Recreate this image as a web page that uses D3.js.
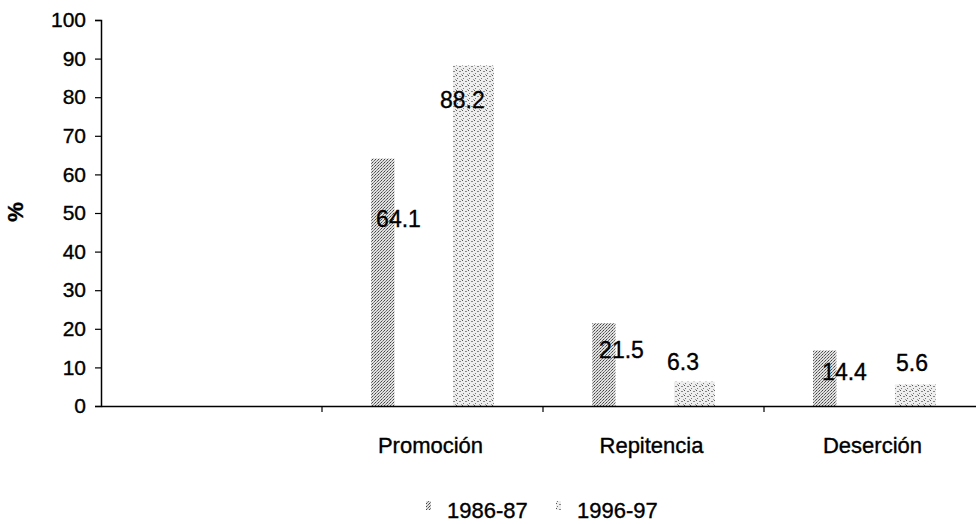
<!DOCTYPE html>
<html>
<head>
<meta charset="utf-8">
<script src="https://cdn.jsdelivr.net/npm/d3@7"></script>
<style>
  body { margin: 0; background: #fff; }
  svg { display: block; font-family: "Liberation Sans", Arial, sans-serif; }
  text { stroke: #000; stroke-width: 0.35px; }
</style>
</head>
<body>
<svg id="base" width="976" height="524"></svg>
<script>
// data
let categories = ["", "Promoción", "Repitencia", "Deserción"]
let series = ["1986-87", "1996-97"]
let values1986 = [null, 64.1, 21.5, 14.4]
let values1996 = [null, 88.2, 6.3, 5.6]
let yTicks = [0, 10, 20, 30, 40, 50, 60, 70, 80, 90, 100]

// label nudges (dx from bar left, dy from bar top), per series then category
let labelNudge = [
    [null, [5, 68], [7, 35], [9, 30]],
    [null, [-13, 42], [-7, -12], [1, -13]]
]
let barWidthFrac = [0.57, 1] //older series looks narrower in the scan

const base = d3.select('#base')
const defs = base.append('defs')

// halftone-ish fills
let p1 = defs.append('pattern').attr('id', 'pat0')
    .attr('width', 3).attr('height', 3).attr('patternUnits', 'userSpaceOnUse')
p1.append('rect').attr('width', 3).attr('height', 3).attr('fill', '#e0e0e0')
p1.append('rect').attr('x', 0).attr('y', 0).attr('width', 1).attr('height', 1).attr('fill', '#444')
p1.append('rect').attr('x', 2).attr('y', 1).attr('width', 1).attr('height', 1).attr('fill', '#666')
p1.append('rect').attr('x', 1).attr('y', 2).attr('width', 1).attr('height', 1).attr('fill', '#888')

let p2 = defs.append('pattern').attr('id', 'pat1')
    .attr('width', 6).attr('height', 5).attr('patternUnits', 'userSpaceOnUse')
p2.append('rect').attr('width', 6).attr('height', 5).attr('fill', '#eeeeee')
p2.append('rect').attr('x', 0).attr('y', 0).attr('width', 1).attr('height', 1).attr('fill', '#555')
p2.append('rect').attr('x', 3).attr('y', 1).attr('width', 2).attr('height', 1).attr('fill', '#888')
p2.append('rect').attr('x', 1).attr('y', 3).attr('width', 1).attr('height', 1).attr('fill', '#777')
p2.append('rect').attr('x', 5).attr('y', 4).attr('width', 1).attr('height', 1).attr('fill', '#999')

let x0 = d3.scaleBand().domain(categories).range([101, 985])
let x1 = d3.scaleBand().domain(series).range([0, x0.bandwidth()]).paddingInner(0.5).paddingOuter(0.6)
let y = d3.scaleLinear().domain([0, 100]).range([406, 20])

// y axis
let yAxis = base.append('g').attr('transform', 'translate(101,0)')
    .call(d3.axisLeft(y).tickValues(yTicks).tickSize(6).tickPadding(9))
yAxis.select('.domain').attr('stroke', '#000').attr('stroke-width', 1.5)
yAxis.selectAll('.tick line').attr('stroke', '#000').attr('stroke-width', 1.2)
yAxis.selectAll('.tick text').attr('font-size', 21).attr('fill', '#000')
    .attr('font-family', '"Liberation Sans", Arial, sans-serif')

base.append('text')
    .attr('transform', 'translate(15,212) rotate(-90)')
    .attr('text-anchor', 'middle')
    .attr('dy', '0.35em')
    .attr('font-size', 22).attr('font-weight', 'bold')
    .text('%')

// bars
let allValues = [values1986, values1996]
allValues.forEach((vals, si) => {
    let g = base.append('g')
    categories.forEach((c, ci) => {
        let v = vals[ci]
        if (v == null) return
        let bx = x0(c) + x1(series[si])
        g.append('rect')
            .attr('x', bx)
            .attr('y', y(v))
            .attr('width', x1.bandwidth() * barWidthFrac[si])
            .attr('height', y(0) - y(v))
            .attr('fill', 'url(#pat' + si + ')')
    })
})

// x axis
let xAxis = base.append('g').attr('transform', 'translate(0,406)')
    .call(d3.axisBottom(x0).tickSize(0).tickPadding(0).tickFormat(''))
xAxis.select('.domain').attr('stroke', '#000').attr('stroke-width', 1.5)
let boundaries = categories.slice(1).map(c => x0(c))
xAxis.selectAll('line.sep').data(boundaries).enter().append('line')
    .attr('class', 'sep')
    .attr('x1', d => d).attr('x2', d => d)
    .attr('y1', 0).attr('y2', 6)
    .attr('stroke', '#000').attr('stroke-width', 1.2)
xAxis.selectAll('text.cat').data(categories).enter().append('text')
    .attr('class', 'cat')
    .attr('x', d => x0(d) + x0.bandwidth() / 2 - 2)
    .attr('y', 47)
    .attr('text-anchor', 'middle')
    .attr('font-size', 22).attr('fill', '#000')
    .text(d => d)

// data labels
allValues.forEach((vals, si) => {
    categories.forEach((c, ci) => {
        let v = vals[ci]
        if (v == null) return
        let n = labelNudge[si][ci]
        base.append('text')
            .attr('x', x0(c) + x1(series[si]) + n[0])
            .attr('y', y(v) + n[1])
            .attr('font-size', 23).attr('fill', '#000')
            .text(v.toFixed(1))
    })
})

// legend
let legend = base.append('g').attr('transform', 'translate(426,518)')
let legX = [0, 130]
series.forEach((s, i) => {
    let lg = legend.append('g').attr('transform', 'translate(' + legX[i] + ',0)')
    lg.append('rect').attr('x', 0).attr('y', -17).attr('width', 5).attr('height', 9)
        .attr('fill', 'url(#pat' + i + ')')
    lg.append('text').attr('x', 21).attr('y', 0)
        .attr('font-size', 22).attr('fill', '#000')
        .text(s)
})
</script>
</body>
</html>
